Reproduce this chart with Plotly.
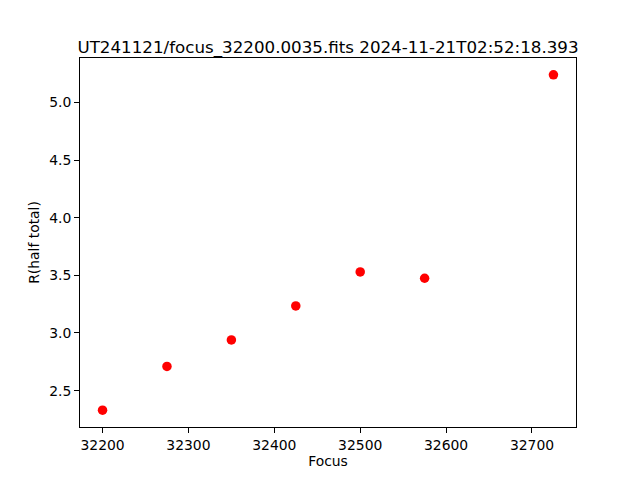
import plotly.graph_objects as go

focus = [32200, 32275, 32350, 32425, 32500, 32575, 32725]
r_half = [2.33, 2.71, 2.94, 3.235, 3.53, 3.475, 5.24]
title_text = "UT241121/focus_32200.0035.fits 2024-11-21T02:52:18.393"

xmin, xmax = min(focus), max(focus)
ymin, ymax = min(r_half), max(r_half)
xm = 0.05 * (xmax - xmin)
ym = 0.05 * (ymax - ymin)

fig = go.Figure(go.Scatter(
    x=focus, y=r_half, mode="markers",
    marker=dict(color="red", size=9.5, line=dict(width=0)),
))

font = "DejaVu Sans, sans-serif"
axis_common = dict(
    showline=True, linecolor="black", linewidth=1.1, mirror=True,
    ticks="outside", ticklen=4.9, tickwidth=1.1, tickcolor="black",
    showgrid=False, zeroline=False, automargin=False,
    tickfont=dict(family=font, size=13.9, color="black"),
)

# page body has an 8px offset, so margins compensate
fig.update_layout(
    width=640, height=480,
    margin=dict(l=72, r=72, t=50, b=61, autoexpand=False),
    paper_bgcolor="white", plot_bgcolor="white",
    showlegend=False,
    title=dict(text=title_text, x=0.5, xanchor="center", xref="paper",
               y=1, yref="paper", yanchor="bottom", pad=dict(b=5),
               font=dict(family=font, size=16.7, color="black")),
    xaxis=dict(range=[xmin - xm, xmax + xm], tickvals=[32200, 32300, 32400, 32500, 32600, 32700],
               tickformat="d",
               title=dict(text="Focus", font=dict(family=font, size=13.9, color="black"), standoff=4),
               **axis_common),
    yaxis=dict(range=[ymin - ym, ymax + ym], tickvals=[2.5, 3.0, 3.5, 4.0, 4.5, 5.0],
               tickformat=".1f",
               title=dict(text="R(half total)", font=dict(family=font, size=13.9, color="black"), standoff=6),
               **axis_common),
)

fig.write_html("out.html")
